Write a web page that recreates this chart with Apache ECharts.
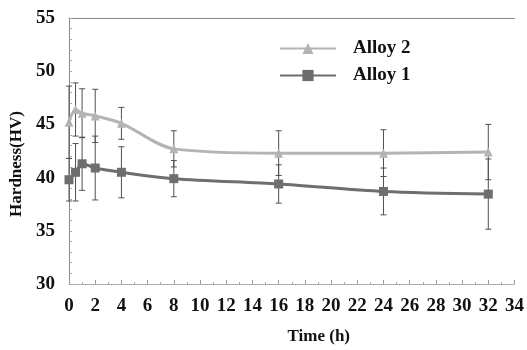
<!DOCTYPE html>
<html><head><meta charset="utf-8">
<script src="https://cdn.jsdelivr.net/npm/echarts@6/dist/echarts.min.js"></script>
<style>html,body{margin:0;padding:0;background:#fff}#c{width:527px;height:350px}</style>
</head><body><div id="c"></div>
<script>
const times = [0, 0.5, 1, 2, 4, 8, 16, 24, 32];
const alloy2 = [45.2, 46.4, 46.05, 45.8, 45.1, 42.7, 42.3, 42.3, 42.4];
const alloy2Err = [3.4, 2.5, 2.3, 2.5, 1.5, 1.7, 2.1, 2.2, 2.6];
const alloy1 = [39.8, 40.5, 41.3, 40.9, 40.5, 39.9, 39.4, 38.7, 38.45];
const alloy1Err = [2.0, 2.7, 2.5, 3.0, 2.4, 1.7, 1.8, 2.2, 3.3];
const xTicks = [0, 34, 2];
const yTicks = [30, 55, 5];

const FONT = '"Liberation Serif", "DejaVu Serif", serif';
const c2 = '#b4b4b4', c1 = '#6e6e6e', cErr = '#505050';

function errData(vals, errs) {
  return times.map((t, i) => [t, vals[i] - errs[i], vals[i] + errs[i]]);
}
function errSeries(name, vals, errs) {
  return {
    type: 'custom', name: name, silent: true, z: 1,
    data: errData(vals, errs),
    renderItem: function (params, api) {
      const x = api.value(0);
      const lo = api.coord([x, api.value(1)]);
      const hi = api.coord([x, api.value(2)]);
      const w = 3;
      const st = { stroke: cErr, lineWidth: 1 };
      return { type: 'group', children: [
        { type: 'line', shape: { x1: lo[0], y1: lo[1], x2: hi[0], y2: hi[1] }, style: st },
        { type: 'line', shape: { x1: lo[0] - w, y1: lo[1], x2: lo[0] + w, y2: lo[1] }, style: st },
        { type: 'line', shape: { x1: hi[0] - w, y1: hi[1], x2: hi[0] + w, y2: hi[1] }, style: st }
      ]};
    }
  };
}

const chart = echarts.init(document.getElementById('c'), null, { renderer: 'canvas' });
chart.setOption({
  backgroundColor: '#fff',
  animation: false,
  grid: { left: 67, right: 12, top: 18, bottom: 60 },
  legend: {
    data: ['Alloy 2', 'Alloy 1'],
    orient: 'vertical', left: 274, top: 34,
    itemWidth: 56, itemHeight: 14, itemGap: 8,
    textStyle: { fontFamily: FONT, fontWeight: 'bold', fontSize: 19, color: '#111', padding: [0, 0, 0, 12], lineHeight: 19 }
  },
  xAxis: [{
    type: 'value', min: xTicks[0], max: xTicks[1], interval: xTicks[2],
    name: 'Time (h)', nameLocation: 'middle', nameGap: 44,
    nameTextStyle: { fontFamily: FONT, fontWeight: 'bold', fontSize: 17, color: '#111', padding: [0, 0, 0, 54] },
    axisLine: { show: true, lineStyle: { color: '#999', type: 'dotted', width: 1 } },
    axisTick: { show: true, inside: true, length: 4, lineStyle: { color: '#999' } },
    minorTick: { show: true, splitNumber: 2, length: 2, lineStyle: { color: '#aaa' } },
    splitLine: { show: false },
    axisLabel: { fontFamily: FONT, fontWeight: 'bold', fontSize: 19, color: '#111', margin: 13 }
  }, {
    type: 'value', position: 'top', min: xTicks[0], max: xTicks[1],
    axisLine: { show: true, lineStyle: { color: '#888', width: 1 } },
    axisTick: { show: false }, axisLabel: { show: false }, splitLine: { show: false }
  }],
  yAxis: [{
    type: 'value', min: yTicks[0], max: yTicks[1], interval: yTicks[2],
    name: 'Hardness(HV)', nameLocation: 'middle', nameGap: 44,
    nameTextStyle: { fontFamily: FONT, fontWeight: 'bold', fontSize: 17, color: '#111', padding: [0, 26, 0, 0] },
    axisLine: { show: true, lineStyle: { color: '#999', type: 'dotted', width: 1 } },
    axisTick: { show: true, inside: true, length: 3, lineStyle: { color: '#aaa' } },
    minorTick: { show: true, splitNumber: 5, length: 3, lineStyle: { color: '#aaa' } },
    splitLine: { show: false },
    axisLabel: { fontFamily: FONT, fontWeight: 'bold', fontSize: 19, color: '#111', margin: 14 }
  }, {
    type: 'value', position: 'right', min: yTicks[0], max: yTicks[1],
    axisLine: { show: true, lineStyle: { color: '#888', width: 1 } },
    axisTick: { show: false }, axisLabel: { show: false }, splitLine: { show: false }
  }],
  series: [
    errSeries('err2', alloy2, alloy2Err),
    errSeries('err1', alloy1, alloy1Err),
    {
      name: 'Alloy 2', type: 'line', smooth: 0.3, z: 3,
      data: times.map((t, i) => [t, alloy2[i]]),
      symbol: 'triangle', symbolSize: 9,
      lineStyle: { color: c2, width: 3 }, itemStyle: { color: c2 }
    },
    {
      name: 'Alloy 1', type: 'line', smooth: 0.3, z: 3,
      data: times.map((t, i) => [t, alloy1[i]]),
      symbol: 'rect', symbolSize: 9,
      lineStyle: { color: c1, width: 3 }, itemStyle: { color: c1 }
    }
  ]
});
</script></body></html>
